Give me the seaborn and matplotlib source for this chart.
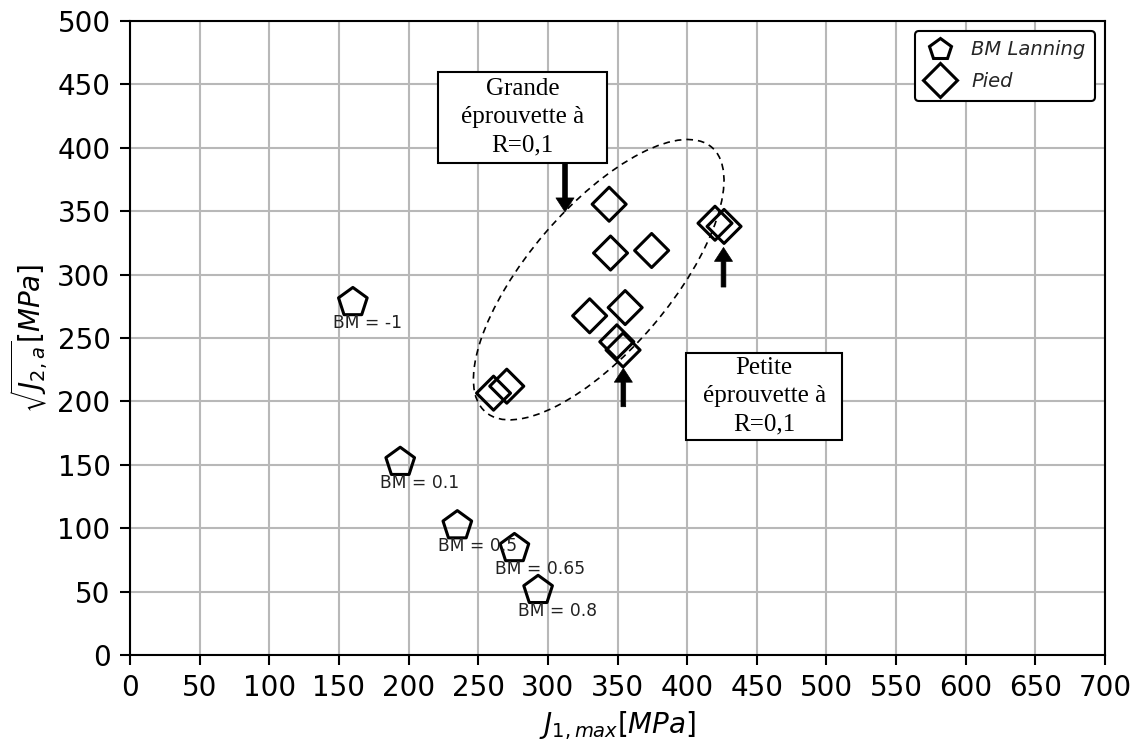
import numpy as np
import pandas as pd
import seaborn as sns
import matplotlib
matplotlib.use("Agg")
import matplotlib.pyplot as plt
from matplotlib.lines import Line2D
from matplotlib.patches import Ellipse, Rectangle
from matplotlib.transforms import Affine2D

# --- data -------------------------------------------------------------
bm_j1 = [160, 194, 235, 276, 293]
bm_j2 = [278, 152, 102, 84, 51]
bm_labels = ["BM = -1", "BM = 0.1", "BM = 0.5", "BM = 0.65", "BM = 0.8"]

pied_j1 = [344, 345, 374.5, 420, 426.5, 330, 355.5, 349.5, 354, 261, 270.5]
pied_j2 = [355.5, 317, 319, 340.5, 338, 267.5, 274, 247, 240.5, 206.5, 212]

series_names = ["BM Lanning", "Pied"]
x_ticks = list(range(0, 701, 50))
y_ticks = list(range(0, 501, 50))

# annotation boxes: (x0, y0, x1, y1) and their texts
box_grande = (221, 388, 342.5, 460)
box_petite = (399, 169.5, 511.5, 238.5)
text_grande = "Grande\néprouvette à\nR=0,1"
text_petite = "Petite\néprouvette à\nR=0,1"
# arrows: (x, tail_y, tip_y)
arrows = [(312.3, 388, 349.5), (426.1, 290.2, 321.4), (354.2, 195.8, 226.1)]
# dashed ellipse around the large-specimen group (centre, axes, angle)
ell_center = (336.5, 296.0)
ell_size = (250, 102)
ell_angle = 49.5

df_bm = pd.DataFrame({"J1": bm_j1, "J2": bm_j2, "serie": series_names[0]})
df_pied = pd.DataFrame({"J1": pied_j1, "J2": pied_j2, "serie": series_names[1]})

# --- figure -------------------------------------------------------------
sns.set_theme(style="ticks")
plt.rcParams["font.family"] = ["DejaVu Sans"]
plt.rcParams["mathtext.fontset"] = "dejavusans"

fig = plt.figure(figsize=(11.42, 7.42), dpi=100)
ax = fig.add_axes([130 / 1142, 1 - 655 / 742, 975 / 1142, 634 / 742])

sns.scatterplot(data=df_bm, x="J1", y="J2", marker="p", s=470,
                facecolor="none", edgecolor="black", linewidth=2.2,
                ax=ax, zorder=4, legend=False)
sns.scatterplot(data=df_pied, x="J1", y="J2", marker="D", s=300,
                facecolor="none", edgecolor="black", linewidth=2.2,
                ax=ax, zorder=4, legend=False)

for xv, yv, lab in zip(bm_j1, bm_j2, bm_labels):
    ax.text(xv - 14.2, yv - 16.3, lab, fontsize=12.3, color="#222222",
            ha="left", va="center", zorder=5)

ax.set_xlim(0, 700)
ax.set_ylim(0, 500)
ax.set_xticks(x_ticks)
ax.set_yticks(y_ticks)
ax.grid(True, color="#b8b8b8", linewidth=1.5, zorder=0)
ax.set_axisbelow(True)
for sp in ax.spines.values():
    sp.set_color("black")
    sp.set_linewidth(1.5)
ax.tick_params(axis="both", which="major", labelsize=20, length=7,
               width=1.5, color="black", labelcolor="black", pad=7)

ax.set_xlabel(r"$J_{1,max}[MPa]$", fontsize=20, color="black", labelpad=5)
ax.set_ylabel(r"$\sqrt{J_{2,a}}[MPa]$", fontsize=20, color="black", labelpad=5)

# dashed ellipse drawn in an equal-pixel frame so its shape is preserved
k = (634 / 500) / (975 / 700)
ell = Ellipse((ell_center[0], ell_center[1] * k), ell_size[0], ell_size[1],
              angle=ell_angle, fill=False, edgecolor="black", linewidth=1.2,
              linestyle=(0, (4, 3)),
              transform=Affine2D().scale(1, 1 / k) + ax.transData, zorder=3)
ax.add_patch(ell)

# text boxes
serif = "Liberation Serif"
for (x0, y0, x1, y1), txt in ((box_grande, text_grande), (box_petite, text_petite)):
    ax.add_patch(Rectangle((x0, y0), x1 - x0, y1 - y0, facecolor="white",
                           edgecolor="black", linewidth=1.5, zorder=6))
    ax.text((x0 + x1) / 2, (y0 + y1) / 2, txt, family=serif, fontsize=18,
            ha="center", va="center", multialignment="center",
            linespacing=1.38, zorder=7, color="black")

# arrows
for xa, ytail, ytip in arrows:
    ax.annotate("", xy=(xa, ytip), xytext=(xa, ytail),
                arrowprops=dict(arrowstyle="simple,head_length=0.5,head_width=0.65,tail_width=0.17",
                                mutation_scale=20, facecolor="black",
                                edgecolor="black", linewidth=0.5,
                                shrinkA=0, shrinkB=0),
                zorder=7)

handles = [
    Line2D([], [], linestyle="none", marker="p", markersize=16,
           markerfacecolor="none", markeredgecolor="black", markeredgewidth=2.2),
    Line2D([], [], linestyle="none", marker="D", markersize=17,
           markerfacecolor="none", markeredgecolor="black", markeredgewidth=2.2),
]
leg = ax.legend(handles, series_names, loc="upper right",
                prop={"style": "italic", "size": 14}, frameon=True,
                fancybox=True, framealpha=1, handlelength=1.6,
                handletextpad=0.8, borderpad=0.5, labelspacing=0.65,
                borderaxespad=0.5)
leg.get_frame().set_edgecolor("black")
leg.get_frame().set_linewidth(1.5)
leg.set_zorder(8)

fig.savefig("out.png", dpi=100)
